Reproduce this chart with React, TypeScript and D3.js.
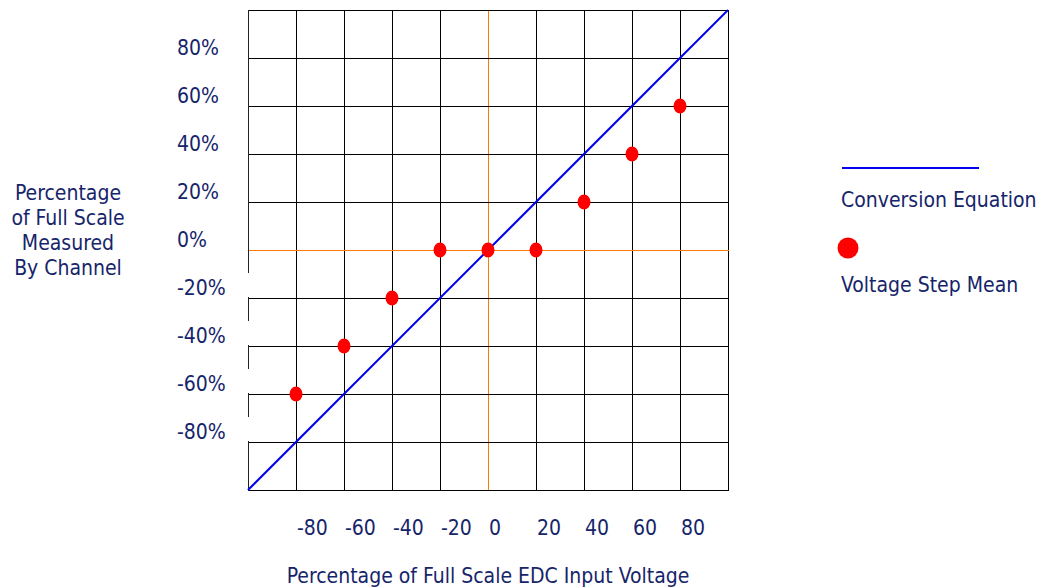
import React from "react";
import * as d3 from "d3";

const inputPct = [-80, -60, -40, -20, 0, 20, 40, 60, 80];
const measuredPct = [-60, -40, -20, 0, 0, 0, 20, 40, 60];
const xTicks = [-80, -60, -40, -20, 0, 20, 40, 60, 80];
const yTicks = [80, 60, 40, 20, 0, -20, -40, -60, -80];
const gridValues = [-100, -80, -60, -40, -20, 0, 20, 40, 60, 80, 100];
const conversionLine = [-100, 100];
const yTitleLines = ["Percentage", "of Full Scale", "Measured", "By Channel"];
const xTitle = "Percentage of Full Scale EDC Input Voltage";
const legendLabels = ["Conversion Equation", "Voltage Step Mean"];

const W = 1037;
const H = 588;
const FONT = "'DejaVu Sans Condensed', 'DejaVu Sans', Tahoma, sans-serif";
const TEXT = "#16256a";
const FS = 21;

export default function App() {
  const x = d3.scaleLinear().domain([-100, 100]).range([248, 728]);
  const y = d3.scaleLinear().domain([-100, 100]).range([490, 10]);
  const line = d3
    .line<number>()
    .x((d) => x(d))
    .y((d) => y(d));

  return (
    <svg
      width={W}
      height={H}
      style={{ position: "absolute", left: 0, top: 0, background: "#fff" }}
      fontFamily={FONT}
    >
      <rect width={W} height={H} fill="#fff" />
      {/* grid */}
      {gridValues.map((v) =>
        v === -100 ? null : (
          <line
            key={"v" + v}
            x1={x(v) + 0.5}
            x2={x(v) + 0.5}
            y1={y(100)}
            y2={y(-100) + 1}
            stroke={v === 0 ? "#ff7a00" : "#000"}
            strokeWidth={1}
          />
        )
      )}
      {gridValues.map((v) => (
        <line
          key={"h" + v}
          x1={x(-100)}
          x2={x(100) + 1}
          y1={y(v) + 0.5}
          y2={y(v) + 0.5}
          stroke={v === 0 ? "#ff7a00" : "#000"}
          strokeWidth={1}
        />
      ))}
      <line
        x1={x(-100) + 0.5}
        x2={x(-100) + 0.5}
        y1={y(100)}
        y2={y(-100) + 1}
        stroke="#222"
        strokeWidth={1}
      />
      {/* label backgrounds masking the left edge */}
      {yTicks
        .filter((v) => v < 0)
        .map((v) => (
          <rect
            key={"m" + v}
            x={170}
            y={y(v) - 25}
            width={79.5}
            height={24}
            fill="#fff"
          />
        ))}
      {/* y tick labels */}
      {yTicks.map((v) => (
        <text key={"yt" + v} x={177} y={y(v) - 3} fontSize={FS} fill={TEXT}>
          {v + "%"}
        </text>
      ))}
      {/* x tick labels */}
      {xTicks.map((v) => (
        <text key={"xt" + v} x={x(v) + 1} y={535} fontSize={FS} fill={TEXT}>
          {String(v)}
        </text>
      ))}
      {/* conversion line */}
      <path
        d={line(conversionLine) || ""}
        stroke="#0000ee"
        strokeWidth={2}
        fill="none"
      />
      {/* points */}
      {inputPct.map((v, i) => (
        <ellipse
          key={"p" + i}
          cx={x(v)}
          cy={y(measuredPct[i])}
          rx={6.5}
          ry={7.5}
          fill="#ff0000"
        />
      ))}
      {/* y title */}
      {yTitleLines.map((t, i) => (
        <text
          key={"ytl" + i}
          x={68}
          y={200 + i * 25}
          textAnchor="middle"
          fontSize={FS}
          fill={TEXT}
        >
          {t}
        </text>
      ))}
      {/* x title */}
      <text x={488} y={583} textAnchor="middle" fontSize={FS} fill={TEXT}>
        {xTitle}
      </text>
      {/* legend */}
      <line x1={842} x2={979} y1={168} y2={168} stroke="#0000ee" strokeWidth={2} />
      <text x={841} y={207} fontSize={FS} fill={TEXT}>
        {legendLabels[0]}
      </text>
      <circle cx={848} cy={248} r={10.5} fill="#ff0000" />
      <text x={841} y={292} fontSize={FS} fill={TEXT}>
        {legendLabels[1]}
      </text>
    </svg>
  );
}
